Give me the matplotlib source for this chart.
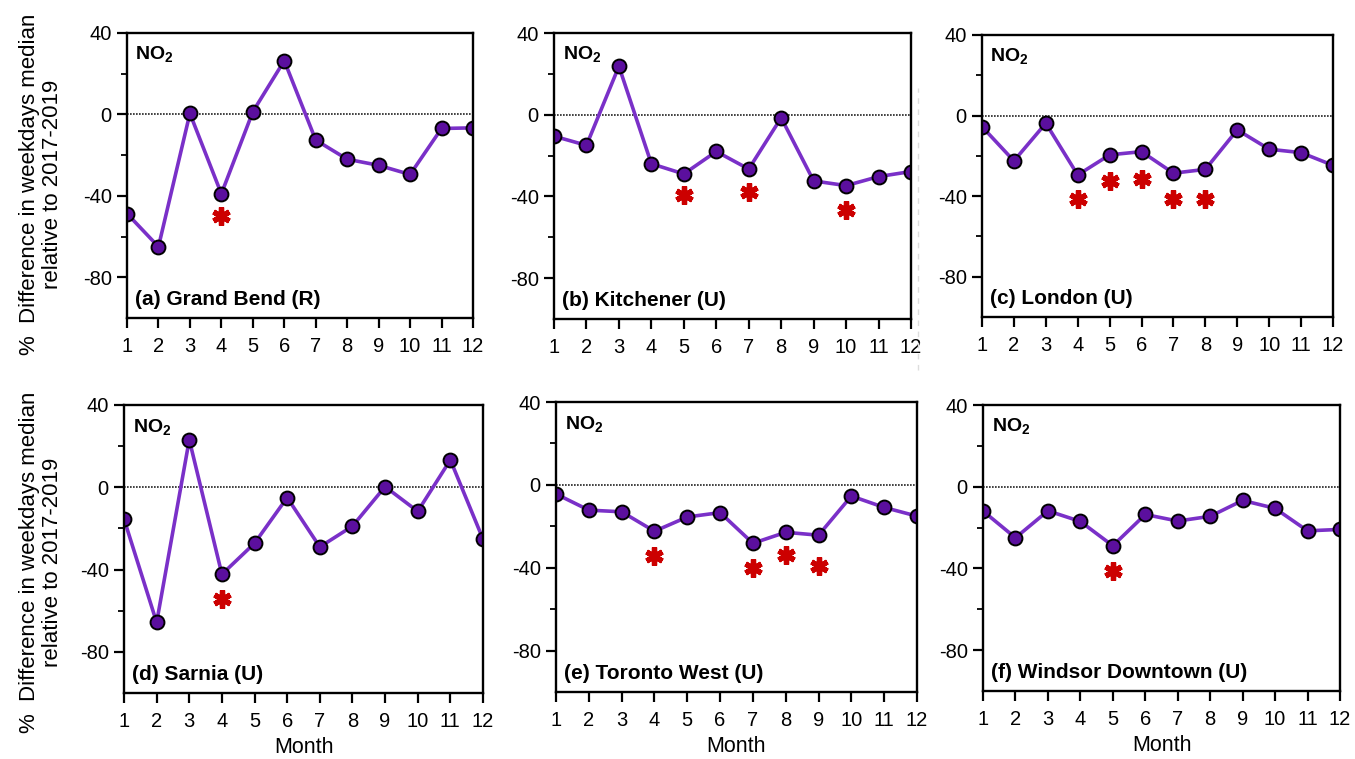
import numpy as np
import matplotlib
matplotlib.use("Agg")
import matplotlib.pyplot as plt
from matplotlib import font_manager as fm
from matplotlib.lines import Line2D

# keep the regular Liberation Sans, not the Narrow cut that shares its family name
fm.fontManager.ttflist = [f for f in fm.fontManager.ttflist if 'Narrow' not in f.fname]
plt.rcParams['font.family'] = ['Liberation Sans', 'DejaVu Sans']
plt.rcParams['mathtext.fontset'] = 'custom'
plt.rcParams['mathtext.rm'] = 'Liberation Sans'
plt.rcParams['mathtext.bf'] = 'Liberation Sans:bold'
plt.rcParams['axes.unicode_minus'] = False

#### data ####
months = np.arange(1, 13)
labels = ['(a) Grand Bend (R)', '(b) Kitchener (U)', '(c) London (U)',
          '(d) Sarnia (U)', '(e) Toronto West (U)', '(f) Windsor Downtown (U)']

grand_bend = [-48.7, -65, 0.5, -39, 1.3, 26.4, -12.6, -22, -25, -29.5, -6.9, -6.6]
kitchener = [-10.5, -15, 23.7, -24, -29, -18, -26.6, -1.5, -32.4, -34.7, -30.3, -27.8]
london = [-5.5, -22.5, -3.8, -29.5, -19.5, -17.9, -28.6, -26.7, -7.1, -16.7, -18.4, -24.7]
sarnia = [-15.4, -65.7, 23.1, -42.3, -27.2, -5, -29, -18.9, 0.3, -11.7, 13.3, -25.2]
toronto_w = [-4.4, -12.2, -13, -22.4, -15.5, -13.4, -28.2, -22.9, -24.3, -5.4, -10.9, -15.1]
windsor = [-11.9, -25, -11.8, -17, -28.9, -13.6, -16.8, -14.5, -6.7, -10.6, -21.6, -20.9]

# significance stars: (month, y position of star)
stars_a = ([4], [-50])
stars_b = ([5, 7, 10], [-39.3, -38, -46.4])
stars_c = ([4, 5, 6, 7, 8], [-41.5, -32.5, -31.6, -41.2, -41.5])
stars_d = ([4], [-54.3])
stars_e = ([4, 7, 8, 9], [-34.3, -40, -34, -39.2])
stars_f = ([5], [-41.1])

series = [grand_bend, kitchener, london, sarnia, toronto_w, windsor]
stars = [stars_a, stars_b, stars_c, stars_d, stars_e, stars_f]

W, H = 1355, 759
# axes boxes in pixels: left, right, top, bottom
boxes = [(127, 473, 33, 318), (554, 911, 33, 319), (982, 1333, 35, 317),
         (124, 483, 405, 693), (556, 917, 402, 692), (983, 1340, 405, 691)]

fig = plt.figure(figsize=(W/100, H/100), dpi=100)

for i, (l, r, t, b) in enumerate(boxes):
    ax = fig.add_axes([l/W, 1 - b/H, (r - l)/W, (b - t)/H])
    ax.axhline(0, color='#222222', lw=1.2, ls=(0, (1, 0.8)), zorder=1)
    ax.plot(months, series[i], color='#7a30c8', lw=2.6, zorder=2,
            marker='o', ms=10, mfc='#5b0f9e', mec='black', mew=1.4)
    sx, sy = stars[i]
    ax.plot(sx, sy, ls='none', marker=(6, 2, 0), ms=13, mew=3.8,
            color='#cc0000', zorder=3)
    ax.set_xlim(1, 12)
    ax.set_ylim(-100, 40)
    ax.set_xticks(months)
    ax.set_yticks([40, 0, -40, -80])
    ax.set_yticks([20, -20, -60], minor=True)
    ax.tick_params(axis='both', which='major', direction='out', length=7,
                   width=1.6, labelsize=14.5, pad=4, color='black')
    ax.tick_params(axis='x', which='major', pad=7)
    ax.tick_params(axis='y', which='minor', direction='out', length=4.5, width=1.3)
    for sp in ax.spines.values():
        sp.set_linewidth(1.7)
    ax.text(0.024, 0.925, r'$\mathbf{NO_2}$', transform=ax.transAxes,
            fontsize=14, va='center', ha='left')
    ax.text(0.022, 0.065, labels[i], transform=ax.transAxes, fontsize=15,
            fontweight='bold', va='center', ha='left')
    if i >= 3:
        ax.set_xlabel('Month', fontsize=15.5, labelpad=4)

ylab = '%  Difference in weekdays median\nrelative to 2017-2019'
fig.text(41/W, 1 - 184/H, ylab, rotation=90, fontsize=16, ha='center',
         va='center', multialignment='center', linespacing=1.15)
fig.text(41/W, 1 - 562/H, ylab, rotation=90, fontsize=16, ha='center',
         va='center', multialignment='center', linespacing=1.15)

# faint scan artefact between panels b and c
fig.add_artist(Line2D([918/W, 918/W], [1 - 370/H, 1 - 88/H], color='#dddddd',
                      lw=1, ls=(0, (4, 4))))

fig.savefig('out.png', dpi=100)
